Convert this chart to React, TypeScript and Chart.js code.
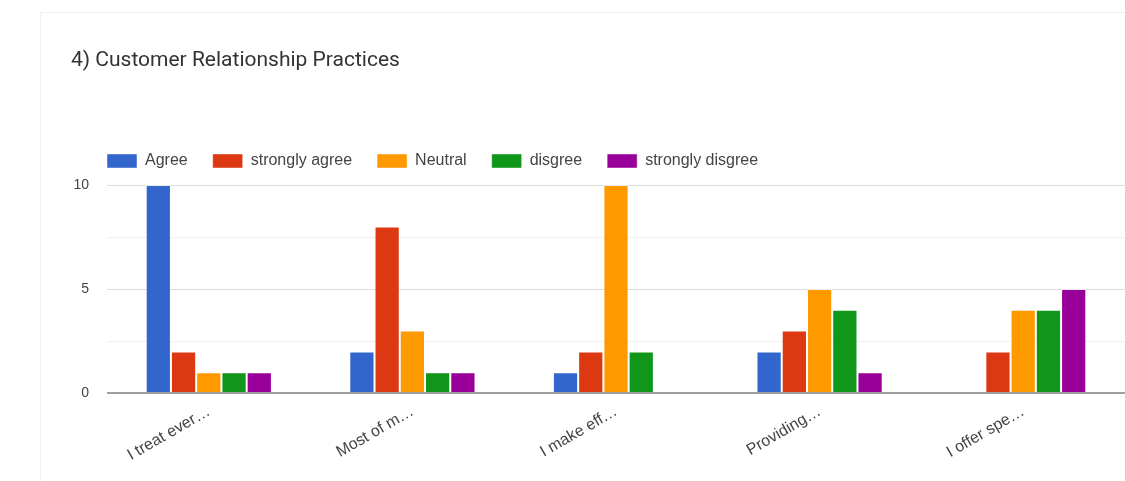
import React, { useEffect, useRef } from "react";
import { Chart, registerables } from "chart.js";

Chart.register(...registerables);

const titleText = "4) Customer Relationship Practices";
const categories = ["I treat ever…", "Most of m…", "I make eff…", "Providing…", "I offer spe…"];
const seriesNames = ["Agree", "strongly agree", "Neutral", "disgree", "strongly disgree"];
const agree = [10, 2, 1, 2, 0];
const stronglyAgree = [2, 8, 2, 3, 2];
const neutral = [1, 3, 10, 5, 4];
const disagree = [1, 1, 2, 4, 4];
const stronglyDisagree = [1, 1, 0, 1, 5];
const seriesColors = ["#3366cc", "#dc3912", "#ff9900", "#109618", "#990099"];
const yTickLabels = [0, 5, 10];

const legendShift = {
  id: "legendShift",
  afterLayout(chart: any) {
    const l = chart.legend;
    if (!l) return;
    const dx = 11;
    const dy = -6;
    l.left += dx;
    l.right += dx;
    l.top += dy;
    l.bottom += dy;
  },
};

export default function App() {
  const ref = useRef<HTMLCanvasElement | null>(null);
  useEffect(() => {
    document.body.style.margin = "0";
    if (!ref.current) return;
    const values = [agree, stronglyAgree, neutral, disagree, stronglyDisagree];
    const chart = new Chart(ref.current, {
      type: "bar",
      data: {
        labels: categories,
        datasets: seriesNames.map((name, i) => ({
          label: name,
          data: values[i],
          backgroundColor: seriesColors[i],
          borderColor: "rgba(255,255,255,0.45)",
          borderWidth: 1,
          categoryPercentage: 0.62,
          barPercentage: 1.0,
        })),
      },
      options: {
        animation: false,
        responsive: false,
        maintainAspectRatio: false,
        layout: { padding: { left: 71, right: 0, top: 0, bottom: 0 } },
        plugins: {
          title: {
            display: true,
            text: titleText,
            align: "start",
            color: "#333333",
            font: { family: "Roboto", size: 21, weight: "normal" },
            padding: { top: 48, bottom: 60.8 },
          },
          legend: {
            display: true,
            position: "top",
            align: "start",
            labels: {
              boxWidth: 30,
              boxHeight: 14,
              padding: 25,
              color: "#444444",
              font: { family: "Liberation Sans", size: 16 },
            },
          },
          tooltip: { enabled: false },
        },
        scales: {
          x: {
            grid: { display: false, drawTicks: false },
            border: { display: false },
            ticks: {
              minRotation: 30,
              maxRotation: 30,
              autoSkip: false,
              padding: 9,
              color: "#444444",
              font: { family: "Liberation Sans", size: 16 },
            },
            afterFit: (s: any) => {
              s.height = 88;
            },
          },
          y: {
            min: 0,
            max: 10,
            border: { display: false },
            grid: {
              drawTicks: false,
              color: (ctx: any) =>
                ctx.tick.value === 0 ? "#9e9e9e" : ctx.tick.value % 5 === 0 ? "#dddddd" : "#f0f0f0",
              lineWidth: (ctx: any) => (ctx.tick.value === 0 ? 2 : 1),
            },
            ticks: {
              stepSize: 2.5,
              padding: 18,
              color: "#444444",
              font: { family: "Liberation Sans", size: 14 },
              callback: (v: any) => (yTickLabels.includes(Number(v)) ? String(v) : ""),
            },
            afterFit: (s: any) => {
              s.width = 36;
            },
          },
        },
      },
      plugins: [legendShift],
    });
    return () => chart.destroy();
  }, []);
  return (
    <div style={{ position: "relative", width: 1125, height: 481, overflow: "hidden", background: "#fff" }}>
      <div
        style={{
          position: "absolute",
          left: 40,
          top: 12,
          width: 1200,
          height: 600,
          border: "1px solid #f0f0f0",
        }}
      />
      <canvas ref={ref} width={1125} height={481} style={{ position: "absolute", left: 0, top: 0 }} />
    </div>
  );
}
